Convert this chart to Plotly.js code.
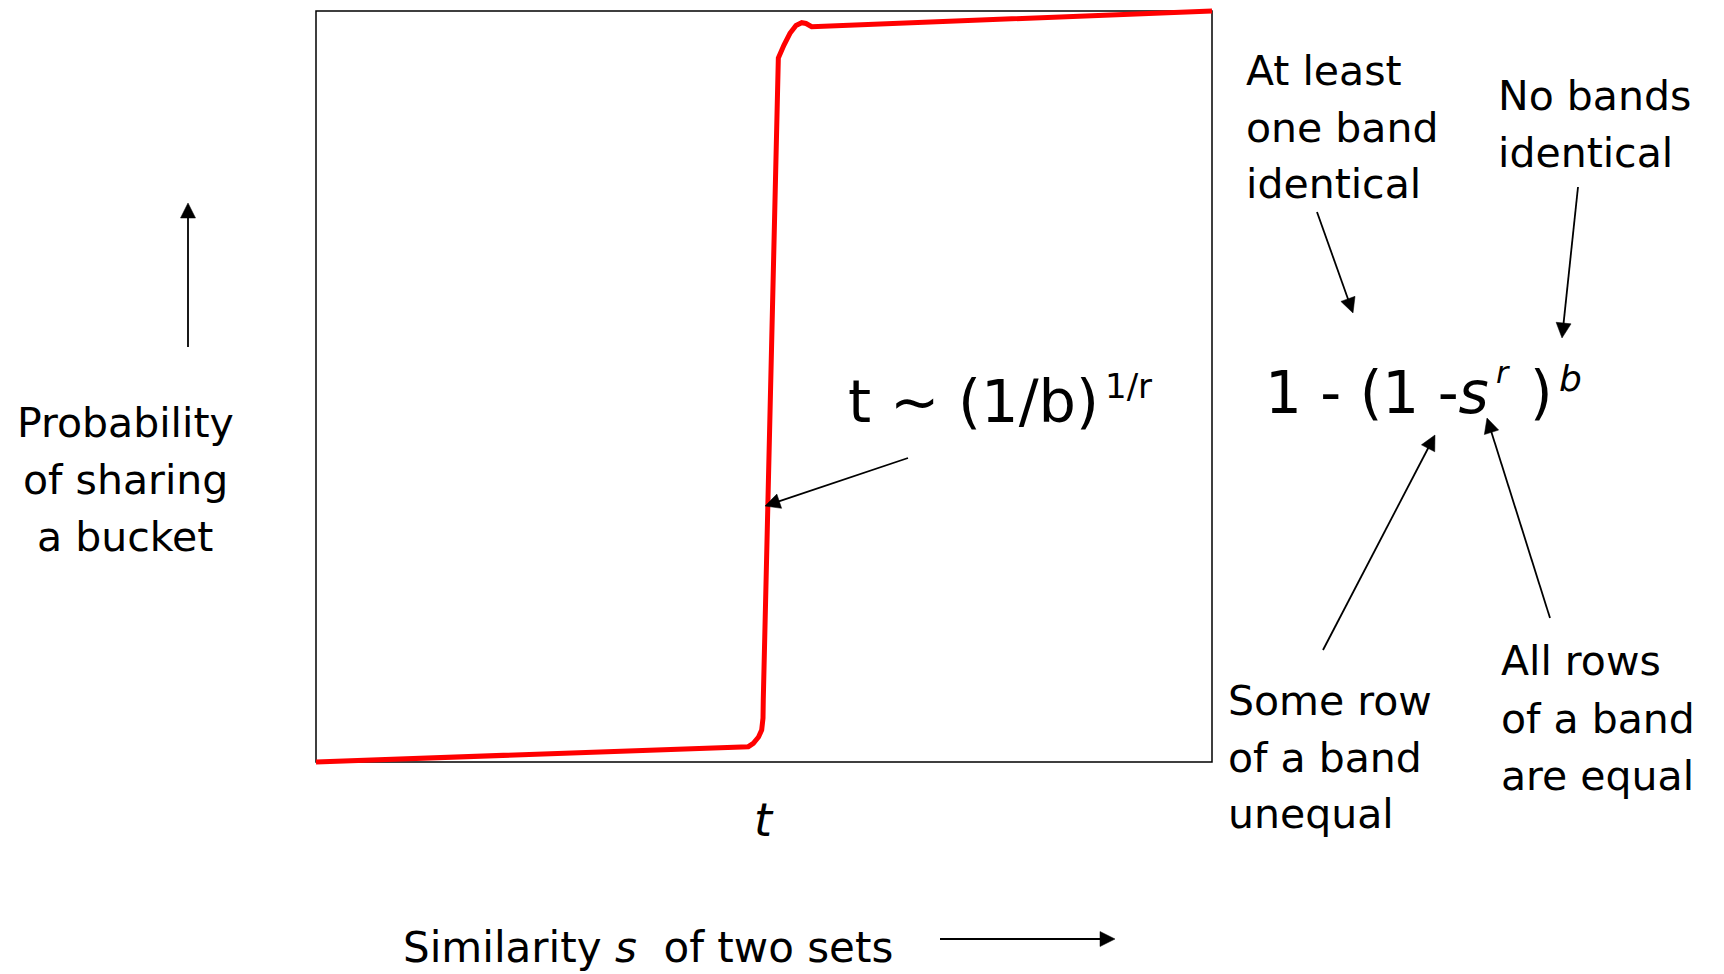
<!DOCTYPE html>
<html><head><meta charset="utf-8">
<script src="https://cdn.plot.ly/plotly-3.0.1.min.js"></script>
<style>html,body{margin:0;padding:0;background:#fff;overflow:hidden}#chart{width:1724px;height:974px}</style>
</head><body><div id="chart"></div>
<script>
// S-curve: probability of sharing a bucket vs similarity s
const similarity  = [0, 0.4825, 0.4881, 0.4939, 0.4974, 0.4989, 0.4992, 0.5160, 0.5223, 0.5290, 0.5357, 0.5421, 0.5469, 0.5532, 1];
const probability = [0, 0.0204, 0.0249, 0.0333, 0.0426, 0.0586, 0.0826, 0.9374, 0.9547, 0.9703, 0.9807, 0.9844, 0.9834, 0.9791, 1];

// Texts
const yLabelLines   = ['Probability', 'of sharing', 'a bucket'];
const xLabel        = 'Similarity <i>s</i>  of two sets';
const tLabel        = '<i>t</i>';
const thresholdBase = 't ~ (1/b)';
const thresholdExp  = '1/r';
const formulaBase   = '1 - (1 -<i>s</i>';
const formulaExpR   = '<i>r</i>';
const formulaClose  = ')';
const formulaExpB   = '<i>b</i>';
const atLeastLines  = ['At least', 'one band', 'identical'];
const noBandsLines  = ['No bands', 'identical'];
const someRowLines  = ['Some row', 'of a band', 'unequal'];
const allRowsLines  = ['All rows', 'of a band', 'are equal'];

// Geometry
const W = 1724, H = 974;
const BOX = {l: 316, r: 1212, t: 11, b: 762};
const PAD = 8;
const plotL = BOX.l - PAD, plotR = BOX.r + PAD, plotT = BOX.t - PAD, plotB = BOX.b + PAD;
const px = X => (X - plotL) / (plotR - plotL);
const py = Y => (plotB - Y) / (plotB - plotT);
const bw = BOX.r - BOX.l, bh = BOX.b - BOX.t;
const FONT = 'DejaVu Sans, Verdana, sans-serif';

function label(text, X, baseline, size, anchor) {
  return {xref: 'paper', yref: 'paper', x: px(X), y: py(baseline + 0.236 * size),
    xanchor: anchor, yanchor: 'bottom', text: text, showarrow: false, align: anchor,
    font: {family: FONT, size: size, color: '#000'}, borderpad: 0, borderwidth: 0};
}
function block(lines, X, baselines, size, anchor) {
  return lines.map((t, i) => label(t, X, baselines[i], size, anchor));
}
// Arrow = line shape + filled triangular head (pixel geometry converted to paper coords)
function arrow(x0, y0, x1, y1) {
  const L = 15, HW = 7.5;
  const dx = x1 - x0, dy = y1 - y0, len = Math.hypot(dx, dy);
  const ux = dx / len, uy = dy / len, nx = -uy, ny = ux;
  const bx = x1 - L * ux, by = y1 - L * uy;
  return [
    {type: 'line', xref: 'paper', yref: 'paper', x0: px(x0), y0: py(y0),
     x1: px(bx + 2 * ux), y1: py(by + 2 * uy), line: {color: '#000', width: 1.8}},
    {type: 'path', xref: 'paper', yref: 'paper',
     path: 'M' + px(x1) + ',' + py(y1) + ' L' + px(bx + HW * nx) + ',' + py(by + HW * ny) +
           ' L' + px(bx - HW * nx) + ',' + py(by - HW * ny) + ' Z',
     fillcolor: '#000', line: {color: '#000', width: 0.5}}
  ];
}

const annotations = [].concat(
  block(yLabelLines, 125, [437, 494, 551], 41, 'center'),
  block(atLeastLines, 1246, [85, 142, 198], 41, 'left'),
  block(noBandsLines, 1498, [110, 167], 41, 'left'),
  block(someRowLines, 1228, [715, 772, 828], 41, 'left'),
  block(allRowsLines, 1501, [675, 733, 790], 41, 'left'),
  [
    label(xLabel, 403, 962, 42, 'left'),
    label(tLabel, 764, 836, 46, 'center'),
    label(thresholdBase, 848, 422, 59, 'left'),
    label(thresholdExp, 1105, 398, 34, 'left'),
    label(formulaBase, 1265, 413, 58, 'left'),
    label(formulaExpR, 1496, 383, 30, 'left'),
    label(formulaClose, 1530, 413, 58, 'left'),
    label(formulaExpB, 1559, 391, 36, 'left')
  ]
);

const shapes = [].concat(
  [{type: 'rect', xref: 'x', yref: 'y', x0: 0, x1: 1, y0: 0, y1: 1,
    line: {color: '#000', width: 1.5}, layer: 'below'}],
  arrow(188, 347, 188, 203),
  arrow(940, 939, 1115, 939),
  arrow(908, 458, 765, 506),
  arrow(1317, 212, 1353, 313),
  arrow(1578, 187, 1562, 338),
  arrow(1323, 650, 1435, 435),
  arrow(1550, 618, 1487, 418)
);

const trace = {x: similarity, y: probability, type: 'scatter', mode: 'lines',
  line: {color: '#ff0000', width: 5}, hoverinfo: 'skip', showlegend: false};

const layout = {
  width: W, height: H,
  margin: {l: plotL, r: W - plotR, t: plotT, b: H - plotB, pad: 0},
  paper_bgcolor: '#fff', plot_bgcolor: '#fff',
  xaxis: {range: [-PAD / bw, 1 + PAD / bw], visible: false, fixedrange: true},
  yaxis: {range: [-PAD / bh, 1 + PAD / bh], visible: false, fixedrange: true},
  shapes: shapes,
  annotations: annotations,
  font: {family: FONT}
};

Plotly.newPlot('chart', [trace], layout, {displayModeBar: false, staticPlot: true});
</script>
</body></html>
